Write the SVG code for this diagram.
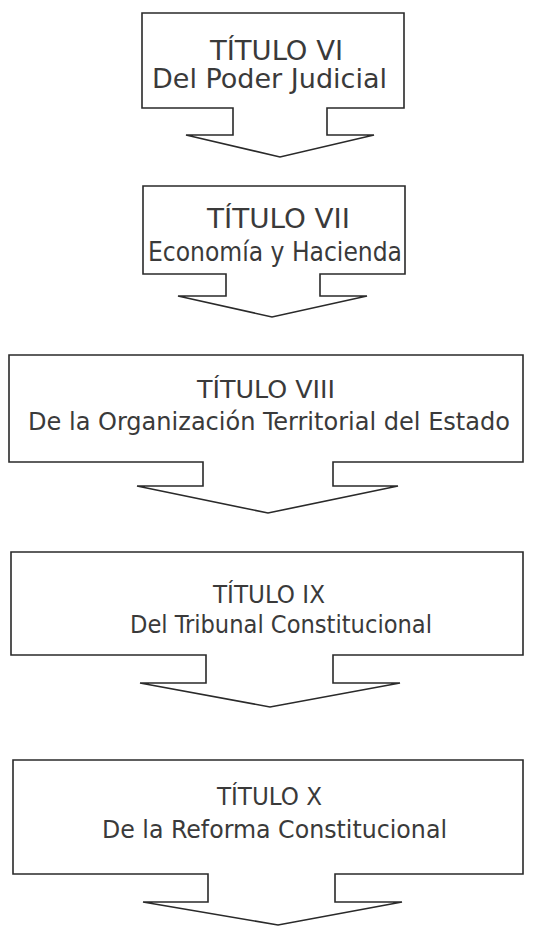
<svg xmlns="http://www.w3.org/2000/svg" width="542" height="927" viewBox="0 0 542 927">
<style>
.box{fill:#fff;stroke:#2a2a2a;stroke-width:1.6;stroke-linejoin:miter}
.t{font-family:"DejaVu Sans Condensed","Noto Sans",sans-serif;font-size:25px;fill:#3a3a3a;text-anchor:start}
.big{font-size:27px}
</style>
<rect width="542" height="927" fill="#fff"/>
<g id="connectors"></g>
<g id="node-vi">
<path class="box" d="M142,13 H404 V108 H327 V135 H374 L280,157 L186,135 H233 V108 H142 Z"/>
<text class="t big" x="210" y="60" textLength="133" lengthAdjust="spacingAndGlyphs">TÍTULO VI</text>
<text class="t big" x="152" y="88" textLength="235" lengthAdjust="spacingAndGlyphs">Del Poder Judicial</text>
</g>
<g id="node-vii">
<path class="box" d="M143,186 H405 V274 H320 V296 H367 L272,317 L178,296 H226 V274 H143 Z"/>
<text class="t big" x="207" y="228" textLength="143" lengthAdjust="spacingAndGlyphs">TÍTULO VII</text>
<text class="t big" x="148" y="261" textLength="254" lengthAdjust="spacingAndGlyphs">Economía y Hacienda</text>
</g>
<g id="node-viii">
<path class="box" d="M9,355 H523 V462 H333 V486 H398 L268,513 L137,486 H203 V462 H9 Z"/>
<text class="t" x="197" y="398" textLength="138" lengthAdjust="spacingAndGlyphs">TÍTULO VIII</text>
<text class="t" x="28" y="430" textLength="482" lengthAdjust="spacingAndGlyphs">De la Organización Territorial del Estado</text>
</g>
<g id="node-ix">
<path class="box" d="M11,552 H523 V655 H333 V683 H400 L270,707 L140,683 H206 V655 H11 Z"/>
<text class="t" x="213" y="603" textLength="112" lengthAdjust="spacingAndGlyphs">TÍTULO IX</text>
<text class="t" x="130" y="633" textLength="302" lengthAdjust="spacingAndGlyphs">Del Tribunal Constitucional</text>
</g>
<g id="node-x">
<path class="box" d="M13,760 H523 V874 H335 V902 H402 L278,925 L143,902 H208 V874 H13 Z"/>
<text class="t" x="217" y="805" textLength="105" lengthAdjust="spacingAndGlyphs">TÍTULO X</text>
<text class="t" x="102" y="838" textLength="345" lengthAdjust="spacingAndGlyphs">De la Reforma Constitucional</text>
</g>
</svg>
